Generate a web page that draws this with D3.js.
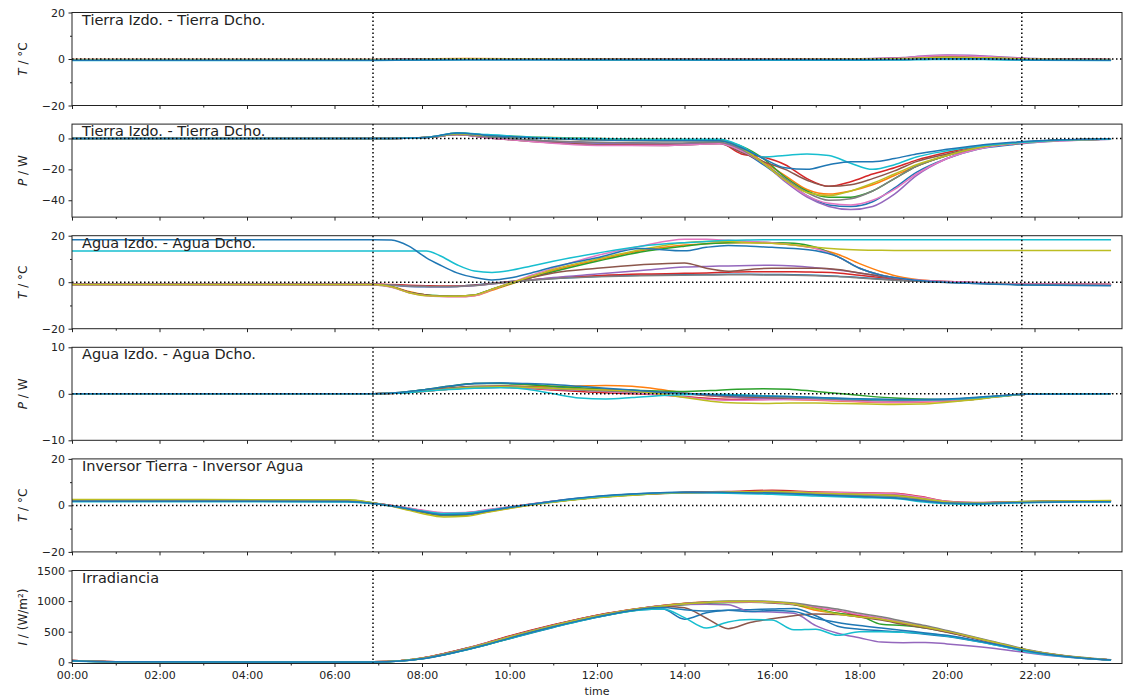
<!DOCTYPE html>
<html>
<head>
<meta charset="utf-8">
<script src="https://cdn.jsdelivr.net/npm/d3@7"></script>
<style>
  body { margin: 0; background: #fff; }
  svg text { font-family: "DejaVu Sans", sans-serif; fill: #222; }
</style>
</head>
<body>
<svg id="chart" width="1123" height="700"></svg>
<script>
// ---- shared settings -------------------------------------------------------
const seriesColors = ["#1f77b4", "#ff7f0e", "#2ca02c", "#d62728", "#9467bd",
                      "#8c564b", "#e377c2", "#7f7f7f", "#bcbd22", "#17becf", "#1f77b4"];
const xTickHours = [0, 2, 4, 6, 8, 10, 12, 14, 16, 18, 20, 22];
const xMinorHours = [1, 3, 5, 7, 9, 11, 13, 15, 17, 19, 21, 23];
const markerHours = [6.88, 21.71];           // sunrise / sunset markers

// ---- panel 1: temperature difference, ground modules ----------------------
const hoursTierraT = [0, 6.9, 9, 12, 15, 18, 19, 19.5, 20, 20.5, 21, 22, 23.75];
const tierraT = [
  [-0.4, -0.4, -0.2, -0.3, -0.3, -0.2, -0.2, 0, 0.2, 0.2, 0, -0.3, -0.4],
  [-0.2, -0.2, 0.2, 0, -0.2, 0, 0.3, 0.6, 0.8, 0.7, 0.5, 0, -0.2],
  [-0.3, -0.3, 0, -0.2, -0.3, -0.1, 0, 0.2, 0.4, 0.3, 0.2, -0.2, -0.3],
  [-0.3, -0.3, 0.1, -0.1, -0.2, 0, 0.4, 1.0, 1.2, 1.1, 0.8, 0, -0.3],
  [-0.3, -0.3, 0.1, -0.1, -0.2, 0.1, 0.6, 1.4, 1.7, 1.6, 1.2, 0.2, -0.2],
  [-0.2, -0.2, 0.1, 0, -0.1, 0, 0.3, 0.8, 1.1, 1.0, 0.8, 0.1, -0.2],
  [-0.3, -0.3, 0, -0.2, -0.2, 0, 0.4, 1.2, 1.5, 1.3, 1.0, 0.1, -0.3],
  [-0.3, -0.3, 0, -0.1, -0.2, -0.1, 0.1, 0.4, 0.6, 0.5, 0.4, -0.1, -0.3],
  [-0.4, -0.4, 0, -0.2, -0.3, -0.1, 0.2, 0.5, 0.7, 0.6, 0.5, -0.1, -0.4],
  [-0.6, -0.6, -0.3, -0.4, -0.5, -0.5, -0.4, -0.3, -0.2, -0.2, -0.3, -0.5, -0.6],
  [-0.5, -0.5, -0.3, -0.3, -0.4, -0.3, -0.2, 0, 0.1, 0.1, 0, -0.4, -0.5]
];

// ---- panel 2: power difference, ground modules ----------------------------
const hoursTierraP = [0, 6.9, 7.6, 8.2, 8.8, 9.5, 10.5, 12, 13.5, 14.8, 15.3, 15.8,
                      16.3, 16.8, 17.3, 17.8, 18.3, 18.8, 19.3, 20, 20.7, 21.5, 22.3, 23.75];
const tierraP = [
  [0, 0, 0.2, 1, 3, 1.5, -1, -3, -3.5, -3, -8, -17, -27, -37, -43, -44, -41, -32, -22, -13, -7, -4, -2, -0.5],
  [0, 0, 0.2, 1, 3, 2, 0.5, -1, -1.5, -1.5, -6, -15, -24, -33, -36, -34, -30, -24, -18, -11, -6, -3.5, -1.5, -0.3],
  [0, 0, 0.2, 0.8, 3.5, 2, 0.5, -0.5, -1, -1.5, -5, -13, -25, -34, -38, -38, -34, -26, -18, -11, -6, -3, -1.5, -0.3],
  [0, 0, 0.2, 0.8, 2.5, 0.5, -1.5, -4, -4, -3, -10, -12, -17, -26, -31, -28, -23, -19, -14, -9, -5, -3, -1.5, -0.3],
  [0, 0, 0.2, 0.8, 2.5, 0.5, -1.5, -3, -3.5, -3, -7, -16, -28, -38, -44, -46, -44, -36, -24, -13, -6, -3, -1.5, -0.3],
  [0, 0, 0.2, 0.8, 2.5, 0.5, -2, -4, -4.5, -3.5, -9, -15, -20, -27, -31, -30, -26, -21, -15, -10, -6, -3, -1.5, -0.4],
  [0, 0, 0.2, 0.8, 2.5, 0.5, -2, -4.5, -4.5, -3.5, -8, -16, -27, -37, -42, -43, -40, -33, -23, -13, -7, -3.5, -2, -0.5],
  [0, 0, 0.2, 0.8, 2.5, 1, -1, -2.5, -3, -2.5, -7, -16, -26, -35, -40, -39, -34, -26, -18, -11, -6, -3, -1.5, -0.3],
  [0, 0, 0.2, 1, 3, 2, 1, 0, -0.5, -1, -6, -16, -27, -35, -37, -34, -29, -23, -17, -11, -6, -3, -1.5, -0.3],
  [0, 0, 0.2, 1, 3.5, 2.5, 1, 0, -0.5, -0.5, -5, -12, -11, -10, -11, -16, -20, -17, -12, -8, -5, -3, -1.5, -0.3],
  [0, 0, 0.2, 1, 3.5, 2, 0.5, -1, -1.5, -1.5, -6, -13, -19, -20, -17, -15, -15, -13, -10, -7, -4.5, -2.5, -1.2, -0.2]
];

// ---- panel 3: temperature difference, water modules -----------------------
const hoursAguaT = [0, 6.9, 7.3, 7.7, 8.1, 8.4, 8.8, 9.2, 9.6, 10, 10.5, 11, 12, 13, 14,
                    14.5, 15, 15.5, 16, 16.5, 17, 17.5, 18, 18.5, 19, 19.5, 20.5, 21.7, 23.75];
const aguaT = [
  [-1, -1, -1.3, -1.8, -2, -2, -1.8, -1.2, -0.5, 0.3, 1, 1.6, 2.5, 3, 3.2, 3.3, 3.4, 3.4, 3.3, 3.2, 3, 2.6, 2, 1.4, 0.8, 0.3, -0.3, -1, -1.3],
  [-1, -1, -1.8, -4, -5.5, -6, -6.2, -5.8, -3.5, -1, 2, 5, 9.5, 13.5, 16, 16.5, 17, 17, 16.8, 16, 14.5, 12, 8, 4.5, 2, 0.8, 0, -0.8, -1],
  [-1.2, -1.2, -2, -4.3, -5.5, -5.8, -6, -5.5, -3, -0.8, 2, 4.5, 9, 13, 15.5, 16.5, 17, 17.2, 17, 16.8, 15, 11, 6, 3, 1.3, 0.5, -0.2, -1, -1.2],
  [-0.8, -0.8, -1, -1.3, -1.5, -1.6, -1.6, -1.3, -0.6, 0.2, 1, 1.8, 2.8, 3.5, 3.8, 4, 4.3, 4.5, 4.5, 4.5, 4.3, 4, 3, 2, 1, 0.5, -0.2, -0.8, -1],
  [-0.8, -0.8, -1.2, -1.7, -1.9, -2, -1.9, -1.5, -0.8, 0, 1, 2, 3.5, 5, 6.5, 6.8, 7, 7.2, 7.3, 7, 6.2, 5.2, 4, 2.5, 1.3, 0.6, 0, -0.8, -1],
  [-1, -1, -2, -4.3, -5.5, -6, -6, -5.5, -3, -0.5, 2, 4, 6, 7.5, 8.3, 6, 4.7, 5.5, 6, 6, 6, 5.5, 4, 2.5, 1.2, 0.5, -0.2, -0.8, -1],
  [-1.2, -1.2, -2.2, -4.5, -5.8, -6.2, -6.3, -5.8, -3.2, -0.5, 3, 6, 11.5, 15.5, 18.5, 18.5, 18, 17.5, 17, 16, 14.5, 11, 6, 3, 1.5, 0.7, 0, -0.8, -1],
  [-1, -1, -1.2, -1.6, -1.8, -1.9, -1.8, -1.4, -0.7, 0, 0.8, 1.5, 2.3, 2.8, 3, 3.1, 3.2, 3.2, 3.1, 3, 2.8, 2.4, 1.8, 1.2, 0.6, 0.2, -0.4, -1, -1.3],
  [-1, -1, -2, -4.5, -5.8, -6, -6, -5.5, -3, -0.5, 2.5, 5.5, 10, 14, 17, 17.5, 17.5, 17, 16.8, 16, 15, 14.3, 13.9, 13.7, 13.6, 13.6, 13.6, 13.6, 13.6],
  [13.4, 13.4, 13.4, 13.4, 13.4, 11.5, 7.5, 4.8, 4.2, 5, 7, 9, 12.5, 15.5, 17, 17.5, 18, 18.2, 18.3, 18.3, 18.3, 18.3, 18.3, 18.3, 18.3, 18.3, 18.3, 18.3, 18.3],
  [18.3, 18.3, 18.1, 15.5, 10.5, 7.5, 4, 2, 1, 1.8, 4, 6.5, 10.5, 14.5, 13.5, 15, 15.8, 15.5, 15, 14.5, 13.5, 11, 6, 3, 1.5, 0.5, -0.5, -1.2, -1.5]
];

// ---- panel 4: power difference, water modules -----------------------------
const hoursAguaP = [0, 6.9, 7.4, 8, 8.6, 9.2, 9.8, 10.4, 11, 11.6, 12.2, 12.8, 13.4, 14,
                    14.6, 15.2, 15.8, 16.4, 17, 17.6, 18.2, 18.8, 19.4, 20, 20.6, 21.2, 21.8, 23.75];
const aguaP = [
  [0, 0, 0.2, 0.8, 1.5, 2.2, 2.3, 2.1, 1.5, 1, 0.6, 0.4, 0.2, 0, -0.2, -0.4, -0.6, -0.8, -1, -1.2, -1.3, -1.4, -1.5, -1.6, -1.2, -0.6, -0.1, 0],
  [0, 0, 0.1, 0.6, 1.2, 1.5, 1.6, 1.6, 1.6, 1.7, 1.8, 1.6, 1, 0.2, -0.5, -0.8, -1, -1.2, -1.4, -1.6, -1.8, -1.9, -1.8, -1.6, -1.2, -0.6, -0.1, 0],
  [0, 0, 0.2, 0.8, 1.6, 2.2, 2.2, 2, 1.6, 1.3, 1, 0.8, 0.6, 0.5, 0.7, 1, 1.1, 1, 0.5, 0, -0.5, -0.9, -1.1, -1.2, -0.9, -0.5, -0.1, 0],
  [0, 0, 0.1, 0.5, 1, 1.3, 1.4, 1.2, 0.8, 0.5, 0.2, 0, -0.2, -0.6, -1, -1.2, -1.2, -1.1, -1, -1.2, -1.4, -1.5, -1.5, -1.3, -1, -0.5, -0.1, 0],
  [0, 0, 0.1, 0.5, 1, 1.3, 1.4, 1.3, 1, 0.8, 0.6, 0.5, 0.3, 0, -0.4, -0.8, -1, -1, -0.9, -1, -1.2, -1.4, -1.5, -1.4, -1, -0.5, -0.1, 0],
  [0, 0, 0.1, 0.6, 1.2, 1.6, 1.7, 1.5, 1.2, 1, 0.9, 0.7, 0.4, 0, -0.3, -0.6, -0.8, -1, -1.1, -1.2, -1.4, -1.5, -1.5, -1.4, -1, -0.5, -0.1, 0],
  [0, 0, 0.1, 0.5, 1, 1.3, 1.5, 1.3, 1, 0.8, 0.5, 0.2, -0.2, -0.7, -1.2, -1.4, -1.3, -1.2, -1.3, -1.5, -1.7, -1.8, -1.7, -1.5, -1.1, -0.5, -0.1, 0],
  [0, 0, 0.1, 0.6, 1.1, 1.5, 1.5, 1.4, 1.1, 0.8, 0.6, 0.4, 0.2, 0, -0.2, -0.4, -0.6, -0.8, -1, -1.2, -1.3, -1.4, -1.4, -1.3, -1, -0.5, -0.1, 0],
  [0, 0, 0.1, 0.5, 1, 1.4, 1.5, 1.4, 1.2, 1, 0.8, 0.6, 0, -0.8, -1.6, -2, -2.1, -2, -2, -2.1, -2.2, -2.3, -2.2, -1.8, -1.3, -0.6, -0.1, 0],
  [0, 0, 0.1, 0.5, 0.9, 1.2, 1.3, 1, 0, -0.9, -1.1, -0.8, -0.4, -0.2, -0.1, -0.2, -0.4, -0.6, -0.8, -1, -1.2, -1.3, -1.3, -1.2, -0.9, -0.5, -0.1, 0],
  [0, 0, 0.2, 0.8, 1.6, 2.2, 2.3, 2.2, 2, 1.6, 1.2, 0.8, 0.4, 0.1, -0.2, -0.4, -0.5, -0.6, -0.8, -1, -1.1, -1.2, -1.2, -1.1, -0.8, -0.4, -0.1, 0]
];

// ---- panel 5: inverter temperature difference ------------------------------
const hoursInversor = [0, 3, 6.3, 6.9, 7.5, 8, 8.5, 9, 9.5, 10, 10.5, 11, 12, 13, 14,
                       15, 16, 17, 18, 18.8, 19.4, 20, 20.6, 21.5, 22.5, 23.75];
const inversorT = [
  [1.8, 1.8, 1.7, 0.8, -0.8, -2.5, -3.8, -3.5, -2.2, -0.8, 0.5, 1.8, 3.8, 5, 5.6, 5.5, 5.2, 4.5, 3.8, 3.3, 2.2, 1.2, 0.9, 1.3, 1.6, 1.7],
  [2.2, 2.2, 2.1, 0.9, -1, -3, -4.5, -4.2, -2.8, -1.2, 0.3, 1.5, 3.5, 4.8, 5.6, 5.8, 6.2, 5.5, 5, 4.6, 3.2, 1.5, 1, 1.5, 1.8, 2],
  [2.4, 2.4, 2.3, 1, -0.8, -2.8, -4.2, -4, -2.6, -1, 0.4, 1.6, 3.4, 4.7, 5.5, 5.8, 5.6, 5, 4.5, 4, 2.8, 1.4, 1, 1.5, 1.8, 2],
  [2, 2, 1.9, 0.9, -0.6, -2.2, -3.4, -3.2, -2, -0.7, 0.6, 1.8, 3.6, 4.9, 5.6, 6, 6.5, 5.8, 5.4, 5.2, 3.8, 1.8, 1.2, 1.5, 1.8, 2],
  [2, 2, 1.9, 0.9, -0.7, -2.4, -3.6, -3.4, -2.1, -0.8, 0.5, 1.7, 3.6, 4.9, 5.5, 5.7, 5.8, 5.2, 4.8, 4.4, 3, 1.5, 1, 1.4, 1.8, 1.9],
  [2.1, 2.1, 2, 0.9, -0.8, -2.6, -3.9, -3.7, -2.4, -0.9, 0.4, 1.6, 3.5, 4.8, 5.5, 5.8, 6.1, 5.5, 5, 4.7, 3.3, 1.6, 1.1, 1.5, 1.8, 2],
  [2, 2, 1.9, 0.8, -0.6, -2, -3.2, -3, -1.8, -0.6, 0.6, 1.8, 3.6, 4.8, 5.4, 5.7, 6, 5.6, 5.3, 5, 3.6, 1.7, 1.1, 1.5, 1.7, 1.9],
  [2.1, 2.1, 2, 0.9, -0.8, -2.6, -4, -3.8, -2.4, -1, 0.4, 1.5, 3.4, 4.7, 5.4, 5.6, 5.5, 5, 4.5, 4, 2.6, 1.3, 1, 1.4, 1.7, 1.9],
  [2.5, 2.5, 2.4, 1, -1.2, -3.5, -5, -4.7, -3, -1.3, 0.2, 1.4, 3.3, 4.6, 5.4, 5.8, 6, 5.3, 4.8, 4.3, 3, 1.5, 1, 1.5, 1.9, 2.1],
  [1.6, 1.6, 1.5, 0.7, -0.8, -2.4, -3.5, -3.3, -2.1, -0.8, 0.5, 1.7, 3.7, 5, 5.5, 5.2, 4.8, 4, 3.4, 3, 1.6, 0.7, 0.4, 1, 1.4, 1.5],
  [1.8, 1.8, 1.7, 0.8, -0.9, -2.6, -4, -3.8, -2.4, -0.9, 0.5, 1.8, 3.9, 5.1, 5.7, 5.6, 5.3, 4.6, 3.8, 3.2, 2, 1, 0.8, 1.2, 1.5, 1.6]
];

// ---- panel 6: irradiance ---------------------------------------------------
const hoursIrr = [0, 1, 6.9, 7.5, 8, 8.5, 9, 9.5, 10, 11, 12, 13, 13.5, 14, 14.5,
                  15, 15.5, 16, 16.5, 17, 17.5, 18, 18.5, 19, 19.5, 20, 21, 22, 23, 23.75];
const irradiance = [
  [26, 8, 6, 21, 56, 120, 200, 290, 385, 570, 735, 858, 870, 705, 810, 850, 860, 870, 880, 760, 590, 540, 515, 490, 460, 420, 300, 160, 72, 36],
  [28, 9, 7, 26, 68, 140, 225, 322, 425, 610, 770, 885, 930, 965, 985, 995, 995, 980, 945, 850, 800, 740, 700, 635, 570, 500, 335, 175, 80, 38],
  [24, 8, 6, 22, 58, 122, 203, 292, 390, 575, 738, 862, 905, 940, 965, 975, 980, 970, 940, 880, 800, 760, 620, 600, 560, 495, 330, 170, 78, 37],
  [30, 10, 8, 27, 70, 142, 228, 325, 428, 612, 770, 882, 928, 960, 980, 990, 990, 975, 950, 900, 840, 770, 715, 640, 575, 500, 335, 175, 80, 38],
  [27, 9, 7, 24, 63, 130, 214, 305, 402, 585, 745, 870, 915, 945, 950, 940, 830, 820, 800, 600, 475, 400, 330, 320, 325, 300, 235, 140, 68, 35],
  [29, 10, 8, 26, 67, 138, 224, 320, 420, 605, 765, 880, 915, 890, 720, 550, 650, 710, 760, 790, 780, 740, 690, 620, 560, 490, 330, 170, 78, 38],
  [26, 9, 7, 25, 66, 136, 222, 318, 418, 603, 762, 880, 922, 955, 975, 985, 985, 975, 950, 905, 850, 780, 725, 650, 585, 510, 340, 178, 80, 38],
  [30, 10, 8, 25, 65, 135, 220, 315, 415, 600, 760, 880, 925, 960, 985, 1000, 1003, 995, 970, 920, 870, 800, 745, 670, 600, 520, 350, 185, 85, 40],
  [25, 8, 7, 24, 64, 133, 218, 312, 412, 598, 755, 878, 920, 955, 978, 992, 995, 985, 955, 870, 790, 745, 705, 640, 575, 505, 340, 178, 82, 39],
  [22, 7, 6, 21, 57, 121, 202, 292, 388, 572, 735, 855, 870, 730, 560, 660, 700, 690, 530, 540, 440, 500, 500, 490, 470, 430, 300, 150, 70, 35],
  [25, 8, 6, 22, 58, 124, 205, 295, 395, 580, 742, 868, 895, 860, 840, 850, 830, 845, 830, 720, 650, 600, 560, 520, 480, 440, 310, 165, 75, 37]
];

// ---- panel descriptions built from the arrays above ------------------------
const panels = [
  { title: "Tierra Izdo. - Tierra Dcho.", sym: "T", unit: " / °C", domain: [-20, 20],
    ticks: [-20, 0, 20], minor: [-10, 10], hours: hoursTierraT, series: tierraT, zero: true },
  { title: "Tierra Izdo. - Tierra Dcho.", sym: "P", unit: " / W", domain: [-50.9, 9.3],
    ticks: [-40, -20, 0], minor: [], hours: hoursTierraP, series: tierraP, zero: true },
  { title: "Agua Izdo. - Agua Dcho.", sym: "T", unit: " / °C", domain: [-20, 20],
    ticks: [-20, 0, 20], minor: [-10, 10], hours: hoursAguaT, series: aguaT, zero: true },
  { title: "Agua Izdo. - Agua Dcho.", sym: "P", unit: " / W", domain: [-10, 10],
    ticks: [-10, 0, 10], minor: [], hours: hoursAguaP, series: aguaP, zero: true },
  { title: "Inversor Tierra - Inversor Agua", sym: "T", unit: " / °C", domain: [-20, 20],
    ticks: [-20, 0, 20], minor: [-10, 10], hours: hoursInversor, series: inversorT, zero: true },
  { title: "Irradiancia", sym: "I", unit: " / (W/m²)", domain: [-20, 1500],
    ticks: [0, 500, 1000, 1500], minor: [], hours: hoursIrr, series: irradiance, zero: false }
];

// ---- layout ----------------------------------------------------------------
const left = 72, right = 1122;
const firstTop = 12.5, step = 111.6, panelH = 93;
const svg = d3.select("#chart");
const x = d3.scaleLinear().domain([0, 24]).range([left, right]);
const hhmm = h => String(h).padStart(2, "0") + ":00";
const yFmt = d3.format("");                  // plain integers, typographic minus
const dotted = "1.5,2.5";

panels.forEach((p, i) => {
  const top = firstTop + i * step;
  const bottom = top + panelH;
  const isLast = i === panels.length - 1;
  const y = d3.scaleLinear().domain(p.domain).range([bottom, top]);

  svg.append("clipPath").attr("id", "clip" + i)
    .append("rect").attr("x", left).attr("y", top)
    .attr("width", right - left).attr("height", panelH);

  const plot = svg.append("g").attr("clip-path", `url(#clip${i})`);
  const line = d3.line()
    .x((d, k) => x(p.hours[k]))
    .y(d => y(d))
    .curve(d3.curveMonotoneX);

  p.series.forEach((s, k) => {
    plot.append("path")
      .attr("d", line(s))
      .attr("fill", "none")
      .attr("stroke", seriesColors[k])
      .attr("stroke-width", 1.5)
      .attr("stroke-linejoin", "round");
  });

  if (p.zero) {
    plot.append("line")
      .attr("x1", left).attr("x2", right)
      .attr("y1", y(0)).attr("y2", y(0))
      .attr("stroke", "#000").attr("stroke-width", 1.5)
      .attr("stroke-dasharray", dotted);
  }
  markerHours.forEach(h => {
    plot.append("line")
      .attr("x1", x(h)).attr("x2", x(h))
      .attr("y1", top).attr("y2", bottom)
      .attr("stroke", "#000").attr("stroke-width", 1.5)
      .attr("stroke-dasharray", dotted);
  });

  // y axis
  const yAxis = svg.append("g").attr("transform", `translate(${left},0)`)
    .call(d3.axisLeft(y).tickValues(p.ticks).tickSize(3.5).tickPadding(3.5).tickFormat(yFmt));
  yAxis.select(".domain").remove();
  if (p.minor.length) {
    const yMinor = svg.append("g").attr("transform", `translate(${left},0)`)
      .call(d3.axisLeft(y).tickValues(p.minor).tickSize(2).tickFormat(""));
    yMinor.select(".domain").remove();
    yMinor.selectAll("line").attr("stroke", "#222");
  }

  // x axis
  const xAxis = svg.append("g").attr("transform", `translate(0,${bottom})`)
    .call(d3.axisBottom(x).tickValues(xTickHours).tickSize(3.5).tickPadding(4.5)
      .tickFormat(h => isLast ? hhmm(h) : ""));
  xAxis.select(".domain").remove();
  const xMinor = svg.append("g").attr("transform", `translate(0,${bottom})`)
    .call(d3.axisBottom(x).tickValues(xMinorHours).tickSize(2).tickFormat(""));
  xMinor.select(".domain").remove();
  xMinor.selectAll("line").attr("stroke", "#222");

  [yAxis, xAxis].forEach(a => {
    a.attr("font-family", null).attr("font-size", null);
    a.selectAll("line").attr("stroke", "#222");
    a.selectAll("text").attr("font-size", 11).attr("fill", "#222");
  });

  // frame
  svg.append("rect")
    .attr("x", left).attr("y", top)
    .attr("width", right - left).attr("height", panelH)
    .attr("fill", "none").attr("stroke", "#222").attr("stroke-width", 1);

  // panel caption
  svg.append("text")
    .attr("x", left + 10).attr("y", top + 12)
    .attr("font-size", 14.5)
    .text(p.title);

  // y label
  const yl = svg.append("text")
    .attr("transform", `translate(27,${(top + bottom) / 2}) rotate(-90)`)
    .attr("text-anchor", "middle")
    .attr("font-size", 12);
  yl.append("tspan").attr("font-style", "italic").text(p.sym);
  yl.append("tspan").text(p.unit);
});

svg.append("text")
  .attr("x", (left + right) / 2).attr("y", 695)
  .attr("text-anchor", "middle")
  .attr("font-size", 11)
  .text("time");
</script>
</body>
</html>
